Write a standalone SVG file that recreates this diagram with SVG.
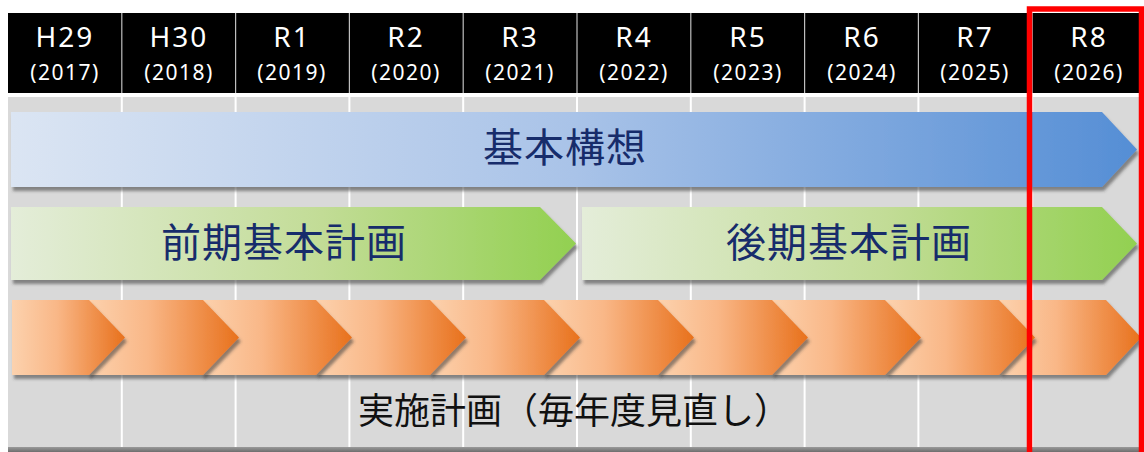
<svg xmlns="http://www.w3.org/2000/svg" width="1144" height="452" viewBox="0 0 1144 452">
  <style>
    .yr { font-family: "Noto Sans", "DejaVu Sans", sans-serif; fill: #ffffff; text-anchor: middle; }
    .era { font-size: 28px; letter-spacing: 2px; }
    .ad { font-size: 21px; letter-spacing: 1.5px; }
    .lbl { font-family: "Noto Sans CJK JP", "Noto Sans CJK SC", sans-serif; fill: #172c6b; font-size: 40px; text-anchor: middle; letter-spacing: 1px; }
    .foot { font-family: "Noto Sans CJK JP", "Noto Sans CJK SC", sans-serif; fill: #111111; font-size: 36px; text-anchor: middle; }
    .sep { stroke: #ffffff; stroke-width: 2; }
    .hsep { stroke: #bfbfbf; stroke-width: 1.2; }
  </style>
  <defs>
    <linearGradient id="gBlue" x1="0" y1="0" x2="1" y2="0">
      <stop offset="0" stop-color="#dbe5f3"/>
      <stop offset="0.5" stop-color="#a9c3e8"/>
      <stop offset="1" stop-color="#558ed5"/>
    </linearGradient>
    <linearGradient id="gGreen" x1="0" y1="0" x2="1" y2="0">
      <stop offset="0" stop-color="#e4edd9"/>
      <stop offset="0.55" stop-color="#c2dc96"/>
      <stop offset="1" stop-color="#92d050"/>
    </linearGradient>
    <linearGradient id="gOrange" x1="0" y1="0" x2="1" y2="0">
      <stop offset="0" stop-color="#fcd2ae"/>
      <stop offset="0.4" stop-color="#f9b787"/>
      <stop offset="1" stop-color="#e8711c"/>
    </linearGradient>
    <linearGradient id="gBottom" x1="0" y1="0" x2="0" y2="1">
      <stop offset="0" stop-color="#9a9a9a"/>
      <stop offset="1" stop-color="#6e6e6e"/>
    </linearGradient>
    <filter id="sh" x="-5%" y="-20%" width="110%" height="150%">
      <feDropShadow dx="2" dy="4" stdDeviation="1.8" flood-color="#3a3a3a" flood-opacity="0.55"/>
    </filter>
  </defs>

  <!-- background grid -->
  <g id="background">
    <rect x="0" y="0" width="1144" height="452" fill="#ffffff"/>
    <rect x="8" y="97" width="1136" height="350" fill="#d9d9d9"/>
    <rect x="8" y="447" width="1136" height="5" fill="url(#gBottom)"/>
    <line class="sep" x1="121.8" y1="97" x2="121.8" y2="447"/>
    <line class="sep" x1="235.6" y1="97" x2="235.6" y2="447"/>
    <line class="sep" x1="349.4" y1="97" x2="349.4" y2="447"/>
    <line class="sep" x1="463.2" y1="97" x2="463.2" y2="447"/>
    <line class="sep" x1="577" y1="97" x2="577" y2="447"/>
    <line class="sep" x1="690.8" y1="97" x2="690.8" y2="447"/>
    <line class="sep" x1="804.6" y1="97" x2="804.6" y2="447"/>
    <line class="sep" x1="918.4" y1="97" x2="918.4" y2="447"/>
    <line class="sep" x1="1032.2" y1="97" x2="1032.2" y2="447"/>
  </g>

  <!-- header -->
  <g id="header">
    <rect x="8" y="13" width="1136" height="80" fill="#000000"/>
    <line class="hsep" x1="121.8" y1="13" x2="121.8" y2="93"/>
    <line class="hsep" x1="235.6" y1="13" x2="235.6" y2="93"/>
    <line class="hsep" x1="349.4" y1="13" x2="349.4" y2="93"/>
    <line class="hsep" x1="463.2" y1="13" x2="463.2" y2="93"/>
    <line class="hsep" x1="577" y1="13" x2="577" y2="93"/>
    <line class="hsep" x1="690.8" y1="13" x2="690.8" y2="93"/>
    <line class="hsep" x1="804.6" y1="13" x2="804.6" y2="93"/>
    <line class="hsep" x1="918.4" y1="13" x2="918.4" y2="93"/>
    <line class="hsep" x1="1032.2" y1="13" x2="1032.2" y2="93"/>
  </g>
  <g id="year-h29" class="yr"><text class="era" x="65" y="47">H29</text><text class="ad" x="65" y="80">(2017)</text></g>
  <g id="year-h30" class="yr"><text class="era" x="179" y="47">H30</text><text class="ad" x="179" y="80">(2018)</text></g>
  <g id="year-r1" class="yr"><text class="era" x="292" y="47">R1</text><text class="ad" x="292" y="80">(2019)</text></g>
  <g id="year-r2" class="yr"><text class="era" x="406" y="47">R2</text><text class="ad" x="406" y="80">(2020)</text></g>
  <g id="year-r3" class="yr"><text class="era" x="520" y="47">R3</text><text class="ad" x="520" y="80">(2021)</text></g>
  <g id="year-r4" class="yr"><text class="era" x="634" y="47">R4</text><text class="ad" x="634" y="80">(2022)</text></g>
  <g id="year-r5" class="yr"><text class="era" x="748" y="47">R5</text><text class="ad" x="748" y="80">(2023)</text></g>
  <g id="year-r6" class="yr"><text class="era" x="862" y="47">R6</text><text class="ad" x="862" y="80">(2024)</text></g>
  <g id="year-r7" class="yr"><text class="era" x="975" y="47">R7</text><text class="ad" x="975" y="80">(2025)</text></g>
  <g id="year-r8" class="yr"><text class="era" x="1089" y="47">R8</text><text class="ad" x="1089" y="80">(2026)</text></g>

  <!-- 基本構想 -->
  <g id="kihon-koso">
    <polygon points="11,112 1102,112 1137,149.5 1102,187 11,187" fill="url(#gBlue)" filter="url(#sh)"/>
    <text class="lbl" x="565" y="162">基本構想</text>
  </g>

  <!-- 前期基本計画 -->
  <g id="zenki-keikaku">
    <polygon points="11,207 540,207 576,243.5 540,280 11,280" fill="url(#gGreen)" filter="url(#sh)"/>
    <text class="lbl" x="284" y="257">前期基本計画</text>
  </g>

  <!-- 後期基本計画 -->
  <g id="koki-keikaku">
    <polygon points="582,207 1102,207 1137,243.5 1102,280 582,280" fill="url(#gGreen)" filter="url(#sh)"/>
    <text class="lbl" x="849" y="257">後期基本計画</text>
  </g>

  <!-- 実施計画 chevrons (drawn last-to-first so earlier ones overlap later) -->
  <g id="jisshi-keikaku">
    <polygon points="1000,300 1106,300 1141,337.5 1106,375 1000,375" fill="url(#gOrange)" filter="url(#sh)"/>
    <polygon points="886,300 999,300 1035,337.5 999,375 886,375" fill="url(#gOrange)" filter="url(#sh)"/>
    <polygon points="772,300 885,300 921,337.5 885,375 772,375" fill="url(#gOrange)" filter="url(#sh)"/>
    <polygon points="658,300 772,300 808,337.5 772,375 658,375" fill="url(#gOrange)" filter="url(#sh)"/>
    <polygon points="544,300 658,300 694,337.5 658,375 544,375" fill="url(#gOrange)" filter="url(#sh)"/>
    <polygon points="430,300 544,300 580,337.5 544,375 430,375" fill="url(#gOrange)" filter="url(#sh)"/>
    <polygon points="316,300 430,300 466,337.5 430,375 316,375" fill="url(#gOrange)" filter="url(#sh)"/>
    <polygon points="202,300 316,300 352,337.5 316,375 202,375" fill="url(#gOrange)" filter="url(#sh)"/>
    <polygon points="88,300 203,300 239,337.5 203,375 88,375" fill="url(#gOrange)" filter="url(#sh)"/>
    <polygon points="12,300 89,300 125,337.5 89,375 12,375" fill="url(#gOrange)" filter="url(#sh)"/>
    <text class="foot" x="574" y="424">実施計画（毎年度見直し）</text>
  </g>

  <!-- highlight R8 -->
  <g id="highlight-r8">
    <rect x="1029.5" y="9" width="112" height="450" fill="none" stroke="#ff0000" stroke-width="5.5"/>
  </g>
</svg>
